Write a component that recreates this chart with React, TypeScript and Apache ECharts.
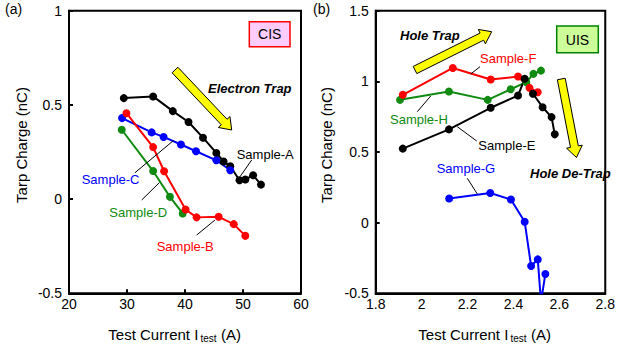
import React, { useEffect, useRef } from "react";
import * as echarts from "echarts";

const FONT = 'Arial, "Liberation Sans", Helvetica, sans-serif';

// Panel (a) CIS
const sampleA_x = [29.45, 34.5, 37.9, 40.6, 43.1, 45.4, 46.65, 47.8, 49.4, 50.4, 51.75, 53.1];
const sampleA_y = [0.536, 0.545, 0.467, 0.409, 0.326, 0.245, 0.2, 0.174, 0.1, 0.104, 0.127, 0.077];
const sampleB_x = [29.9, 34.5, 36.4, 40.1, 42.0, 45.8, 48.4, 50.4];
const sampleB_y = [0.456, 0.276, 0.148, -0.055, -0.097, -0.094, -0.133, -0.195];
const sampleC_x = [29.15, 34.25, 36.3, 39.3, 41.9, 45.4, 47.8];
const sampleC_y = [0.43, 0.354, 0.33, 0.29, 0.254, 0.206, 0.153];
const sampleD_x = [29.1, 34.5, 37.4, 39.6];
const sampleD_y = [0.368, 0.149, 0.012, -0.076];

// Panel (b) UIS
const sampleE_x = [1.918, 2.119, 2.301, 2.42, 2.449, 2.485, 2.527, 2.566, 2.58];
const sampleE_y = [0.524, 0.66, 0.813, 0.9, 1.018, 0.912, 0.817, 0.747, 0.625];
const sampleF_x = [1.918, 2.136, 2.301, 2.42, 2.47, 2.506];
const sampleF_y = [0.905, 1.095, 1.013, 1.034, 0.954, 0.923];
const sampleG_x = [2.12, 2.299, 2.389, 2.449, 2.477, 2.506, 2.52, 2.539];
const sampleG_y = [0.171, 0.21, 0.164, 0.006, -0.307, -0.26, -0.56, -0.363];
const sampleH_x = [1.906, 2.119, 2.288, 2.388, 2.456, 2.487, 2.52];
const sampleH_y = [0.869, 0.928, 0.869, 0.944, 0.994, 1.053, 1.076];

const zip = (xs: number[], ys: number[]) => xs.map((x, i) => [x, ys[i]]);

function arrowPts(x1: number, y1: number, x2: number, y2: number, sw: number, hw: number, hl: number) {
  const dx = x2 - x1, dy = y2 - y1;
  const L = Math.hypot(dx, dy);
  const ux = dx / L, uy = dy / L;
  const nx = -uy, ny = ux;
  const bx = x1 + ux * (L - hl), by = y1 + uy * (L - hl);
  return [
    [x1 + nx * sw / 2, y1 + ny * sw / 2],
    [bx + nx * sw / 2, by + ny * sw / 2],
    [bx + nx * hw / 2, by + ny * hw / 2],
    [x2, y2],
    [bx - nx * hw / 2, by - ny * hw / 2],
    [bx - nx * sw / 2, by - ny * sw / 2],
    [x1 - nx * sw / 2, y1 - ny * sw / 2],
  ];
}

function txt(text: string, x: number, y: number, opts: any = {}) {
  return {
    type: "text",
    x,
    y,
    rotation: opts.rotation || 0,
    z: 100,
    style: {
      text,
      fill: opts.color || "#000",
      fontSize: opts.fontSize || 13,
      fontFamily: FONT,
      fontWeight: opts.fontWeight || "normal",
      fontStyle: opts.fontStyle || "normal",
      align: opts.align || "left",
      verticalAlign: "middle",
      textAlign: opts.align || "left",
      textVerticalAlign: "middle",
    },
  };
}

function seg(x1: number, y1: number, x2: number, y2: number) {
  return {
    type: "line",
    z: 100,
    shape: { x1, y1, x2, y2 },
    style: { stroke: "#000", lineWidth: 1 },
  };
}

function arrow(x1: number, y1: number, x2: number, y2: number) {
  return {
    type: "polygon",
    z: 100,
    shape: { points: arrowPts(x1, y1, x2, y2, 8, 16, 11) },
    style: { fill: "#ffff00", stroke: "#000", lineWidth: 1 },
  };
}

function xTitle(left: number, y: number) {
  const main = "Test Current I";
  const mainW = 91.7;
  return [
    txt(main, left, y, { fontSize: 15 }),
    txt("test", left + mainW + 0.5, y + 4, { fontSize: 10 }),
    txt("(A)", left + mainW + 21, y, { fontSize: 15 }),
  ];
}

function axisSet(gridIndex: number, min: number, max: number, interval: number, showTick: boolean, isX: boolean) {
  return {
    gridIndex,
    type: "value",
    min,
    max,
    interval,
    axisLine: { show: true, onZero: false, lineStyle: { color: "#000", width: 2 } },
    axisTick: { show: showTick, inside: true, length: 4, lineStyle: { color: "#000", width: 2 } },
    axisLabel: {
      color: "#000",
      fontSize: 14,
      fontFamily: FONT,
      margin: isX ? 4 : 7,
      padding: isX ? 0 : [6, 0, 0, 0],
    },
    splitLine: { show: false },
  };
}

function series(name: string, xi: number, xs: number[], ys: number[], color: string) {
  return {
    name,
    type: "line",
    xAxisIndex: xi,
    yAxisIndex: xi,
    data: zip(xs, ys),
    symbol: "circle",
    symbolSize: 8,
    showSymbol: true,
    clip: true,
    lineStyle: { color, width: 2 },
    itemStyle: { color },
  };
}

export default function App() {
  const ref = useRef<HTMLDivElement>(null);
  useEffect(() => {
    document.body.style.margin = "0";
    if (!ref.current) return;
    const chart = echarts.init(ref.current, null, { renderer: "svg" });
    const option: any = {
      animation: false,
      backgroundColor: "#fff",
      grid: [
        { left: 69, top: 10.7, width: 232, height: 282.6, show: true, borderColor: "#000", borderWidth: 2 },
        { left: 375.7, top: 10.7, width: 232.6, height: 282.6, show: true, borderColor: "#000", borderWidth: 2 },
      ],
      xAxis: [axisSet(0, 20, 60, 10, true, true), axisSet(1, 1.8, 2.8, 0.2, false, true)],
      yAxis: [axisSet(0, -0.5, 1, 0.5, true, false), axisSet(1, -0.5, 1.5, 0.5, true, false)],
      series: [
        series("Sample-A", 0, sampleA_x, sampleA_y, "#000000"),
        series("Sample-C", 0, sampleC_x, sampleC_y, "#0000ff"),
        series("Sample-D", 0, sampleD_x, sampleD_y, "#108a10"),
        series("Sample-B", 0, sampleB_x, sampleB_y, "#ff0000"),
        series("Sample-G", 1, sampleG_x, sampleG_y, "#0000ff"),
        series("Sample-H", 1, sampleH_x, sampleH_y, "#108a10"),
        series("Sample-F", 1, sampleF_x, sampleF_y, "#ff0000"),
        series("Sample-E", 1, sampleE_x, sampleE_y, "#000000"),
      ],
      graphic: [
        txt("(a)", 5, 9, { fontSize: 14 }),
        txt("(b)", 313, 9, { fontSize: 14 }),
        txt("Tarp Charge (nC)", 21.7, 145, { fontSize: 15, align: "center", rotation: Math.PI / 2 }),
        txt("Tarp Charge (nC)", 326.5, 145, { fontSize: 15, align: "center", rotation: Math.PI / 2 }),
        ...xTitle(108.3, 334),
        ...xTitle(418.3, 334),
        {
          type: "rect",
          z: 100,
          shape: { x: 249.3, y: 21.7, width: 40.7, height: 25 },
          style: { fill: "#ffccff", stroke: "#ff0000", lineWidth: 1.5 },
        },
        txt("CIS", 269.7, 34.4, { fontSize: 14, align: "center" }),
        {
          type: "rect",
          z: 100,
          shape: { x: 556.7, y: 26, width: 41.6, height: 26.7 },
          style: { fill: "#ccff99", stroke: "#008000", lineWidth: 1.5 },
        },
        txt("UIS", 577.5, 39.5, { fontSize: 14, align: "center" }),
        arrow(175, 70, 231.7, 130),
        arrow(415, 70, 491.7, 31.7),
        arrow(561.3, 79, 576.5, 157.5),
        txt("Electron Trap", 208, 88.3, { fontWeight: "bold", fontStyle: "italic" }),
        txt("Hole Trap", 400, 35, { fontWeight: "bold", fontStyle: "italic" }),
        txt("Hole De-Trap", 530, 173.3, { fontWeight: "bold", fontStyle: "italic" }),
        txt("Sample-A", 236.7, 154, { color: "#000" }),
        txt("Sample-C", 81.7, 179, { color: "#0000ff" }),
        txt("Sample-D", 109.3, 212.3, { color: "#108a10" }),
        txt("Sample-B", 156.7, 246.7, { color: "#ff0000" }),
        txt("Sample-F", 480, 58.3, { color: "#ff0000" }),
        txt("Sample-H", 390, 119.3, { color: "#108a10" }),
        txt("Sample-E", 478.3, 145, { color: "#000" }),
        txt("Sample-G", 436.7, 168.3, { color: "#0000ff" }),
        seg(251.7, 160, 240, 176.7),
        seg(135, 172.7, 173.3, 140.7),
        seg(141.7, 200, 159.3, 182.7),
        seg(196.7, 235, 215, 220),
        seg(480, 66.7, 470.7, 74),
        seg(417.3, 111.7, 430.7, 96),
        seg(476.7, 141, 457.3, 126.7),
        seg(467.3, 178.3, 477.3, 194),
      ],
    };
    chart.setOption(option);
    return () => chart.dispose();
  }, []);
  return <div ref={ref} style={{ width: 618, height: 347 }} />;
}
